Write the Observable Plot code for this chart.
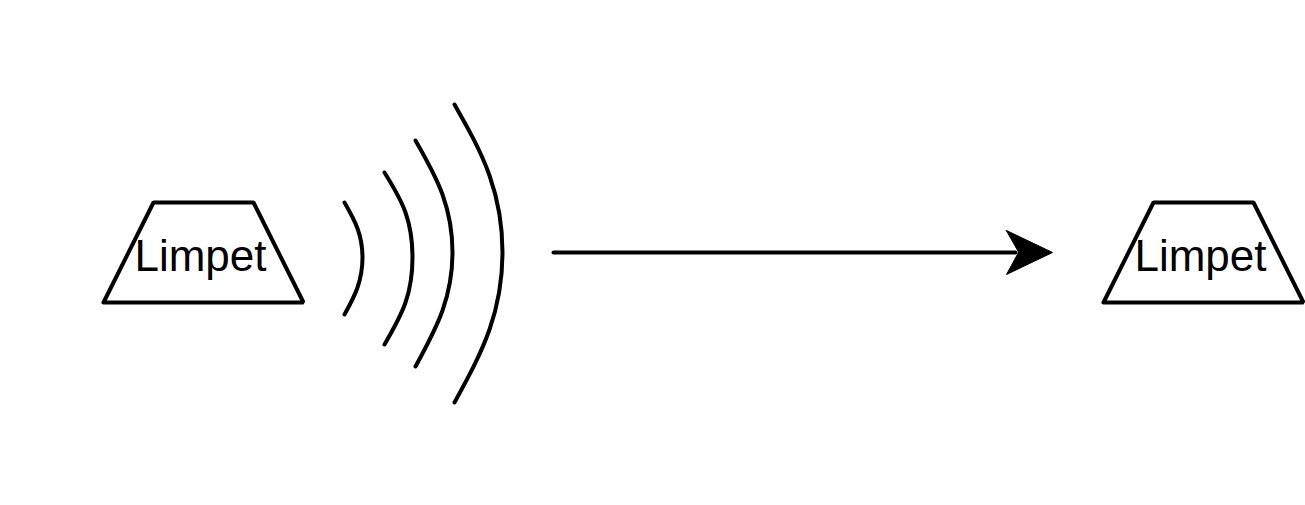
<!DOCTYPE html>
<html>
<head>
<meta charset="utf-8">
<script src="https://cdn.jsdelivr.net/npm/d3@7"></script>
<script src="https://cdn.jsdelivr.net/npm/@observablehq/plot@0.6"></script>
<style>body{margin:0;background:#fff}</style>
</head>
<body>
<div id="chart"></div>
<script>
// trapezoid outlines (closed)
const shapes = [
  {id: "a", x: 103, y: 302}, {id: "a", x: 153, y: 202}, {id: "a", x: 253, y: 202}, {id: "a", x: 303, y: 302}, {id: "a", x: 103, y: 302},
  {id: "b", x: 1103, y: 302}, {id: "b", x: 1153, y: 202}, {id: "b", x: 1253, y: 202}, {id: "b", x: 1303, y: 302}, {id: "b", x: 1103, y: 302}
]
const labels = [{x: 200, y: 256, t: "Limpet"}, {x: 1200, y: 256, t: "Limpet"}]
// signal arcs
const arcs = [
  {id: 1, x: 344, y: 202}, {id: 1, x: 357, y: 228}, {id: 1, x: 362, y: 257}, {id: 1, x: 357, y: 287}, {id: 1, x: 344, y: 314},
  {id: 2, x: 384, y: 172}, {id: 2, x: 405, y: 212}, {id: 2, x: 412, y: 257}, {id: 2, x: 405, y: 302}, {id: 2, x: 384, y: 344},
  {id: 3, x: 415, y: 140}, {id: 3, x: 442, y: 194}, {id: 3, x: 452, y: 252}, {id: 3, x: 442, y: 310}, {id: 3, x: 415, y: 366},
  {id: 4, x: 454, y: 104}, {id: 4, x: 489, y: 175}, {id: 4, x: 502, y: 252}, {id: 4, x: 489, y: 329}, {id: 4, x: 454, y: 402}
]
const shaft = [{x: 553, y: 252}, {x: 1015, y: 252}]
const head = [{x: 1006, y: 230}, {x: 1052, y: 252}, {x: 1006, y: 274}, {x: 1018, y: 252}]

let chart = Plot.plot({
  width: 1305, height: 505,
  margin: 0,
  x: {domain: [0, 1305], axis: null},
  y: {domain: [505, 0], axis: null},
  marks: [
    Plot.line(shapes, {x: "x", y: "y", z: "id", stroke: "black", strokeWidth: 4, strokeLinejoin: "miter"}),
    Plot.line(arcs, {x: "x", y: "y", z: "id", stroke: "black", strokeWidth: 4, curve: "natural"}),
    Plot.line(shaft, {x: "x", y: "y", stroke: "black", strokeWidth: 4}),
    Plot.line(head, {x: "x", y: "y", fill: "black", stroke: "black", strokeWidth: 1, curve: "linear-closed"}),
    Plot.text(labels, {x: "x", y: "y", text: "t", fontSize: 44, fill: "black", fontFamily: "Liberation Sans"})
  ],
  style: {background: "white"}
})
d3.select('#chart').append(() => chart)
</script>
</body>
</html>
